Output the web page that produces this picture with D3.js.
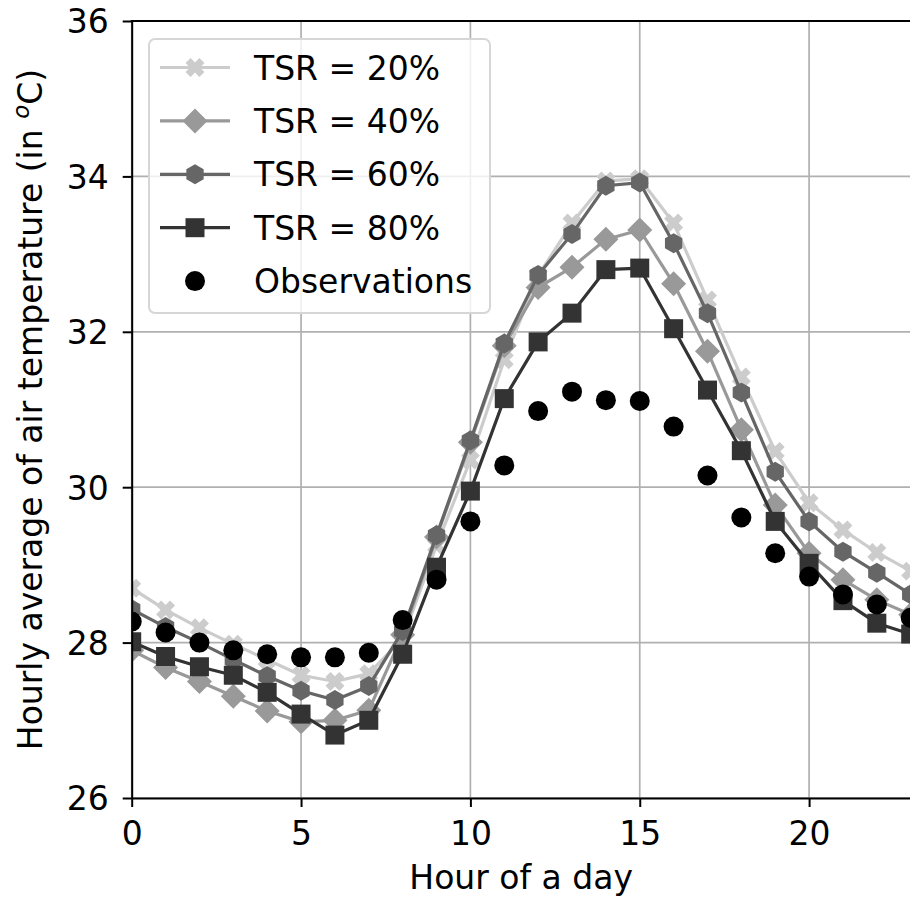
<!DOCTYPE html>
<html>
<head>
<meta charset="utf-8">
<script src="https://cdnjs.cloudflare.com/ajax/libs/d3/7.8.5/d3.min.js"></script>
<style>
  body { margin: 0; background: #fff; }
  svg text { font-family: "DejaVu Sans", sans-serif; fill: #000; }
</style>
</head>
<body>
<div id="chart"></div>
<script>
// hourly averages
var hours = d3.range(0, 24);
var xTicks = [0, 5, 10, 15, 20];
var yTicks = [26, 28, 30, 32, 34, 36];

var tsr20 = [28.70, 28.42, 28.19, 27.98, 27.78, 27.58, 27.50, 27.60, 28.05, 29.25, 30.35, 31.64,
             32.72, 33.40, 33.94, 33.97, 33.40, 32.41, 31.42, 30.46, 29.80, 29.45, 29.16, 28.92];
var tsr40 = [27.90, 27.68, 27.50, 27.31, 27.12, 26.98, 27.00, 27.13, 28.10, 29.36, 30.58, 31.82,
             32.57, 32.83, 33.19, 33.31, 32.62, 31.75, 30.74, 29.77, 29.15, 28.81, 28.55, 28.36];
var tsr60 = [28.43, 28.20, 28.00, 27.78, 27.57, 27.38, 27.26, 27.44, 28.15, 29.38, 30.60, 31.85,
             32.73, 33.26, 33.88, 33.92, 33.14, 32.24, 31.22, 30.20, 29.56, 29.17, 28.90, 28.62];
var tsr80 = [28.01, 27.82, 27.69, 27.58, 27.36, 27.08, 26.81, 27.00, 27.85, 28.97, 29.95, 31.14,
             31.87, 32.24, 32.80, 32.82, 32.04, 31.25, 30.47, 29.56, 29.02, 28.54, 28.25, 28.11];
var observed = [28.27, 28.13, 28.00, 27.90, 27.85, 27.81, 27.81, 27.87, 28.29, 28.81, 29.56, 30.28,
                30.98, 31.23, 31.12, 31.11, 30.78, 30.15, 29.61, 29.15, 28.85, 28.62, 28.49, 28.32];

var series = [
  { label: 'TSR = 20%', values: tsr20, color: '#cccccc', marker: 'x' },
  { label: 'TSR = 40%', values: tsr40, color: '#999999', marker: 'diamond' },
  { label: 'TSR = 60%', values: tsr60, color: '#666666', marker: 'hexagon' },
  { label: 'TSR = 80%', values: tsr80, color: '#333333', marker: 'square' }
];

var width = 910;
var height = 900;
var plotLeft = 131.7, plotRight = 910.7, plotTop = 21, plotBottom = 798;
var fontSize = 33;

var x = d3.scaleLinear().domain([0, 23]).range([plotLeft, plotRight]);
var y = d3.scaleLinear().domain([26, 36]).range([plotBottom, plotTop]);

function markerPath(kind) {
  var pts = [];
  if (kind === 'circle') {
    return d3.symbol().type(d3.symbolCircle).size(Math.PI * 10 * 10)();
  }
  if (kind === 'square') {
    var s = 9.5;
    pts = [[-s, -s], [s, -s], [s, s], [-s, s]];
  } else if (kind === 'diamond') {
    var d = 12.5;
    pts = [[0, -d], [d, 0], [0, d], [-d, 0]];
  } else if (kind === 'hexagon') {
    var r = 10;
    for (var i = 0; i < 6; i++) {
      var a = Math.PI / 3 * i - Math.PI / 2;
      pts.push([r * Math.cos(a), r * Math.sin(a)]);
    }
  } else if (kind === 'x') {
    var L = 9.8, w = 3.6;
    var plus = [[w, w], [w, L], [-w, L], [-w, w], [-L, w], [-L, -w], [-w, -w], [-w, -L], [w, -L], [w, -w], [L, -w], [L, w]];
    var c = Math.SQRT1_2;
    pts = plus.map(function(p) { return [p[0] * c - p[1] * c, p[0] * c + p[1] * c]; });
  }
  return 'M' + pts.map(function(p) { return p[0].toFixed(2) + ',' + p[1].toFixed(2); }).join('L') + 'Z';
}

var svg = d3.select('#chart')
  .append('svg')
  .attr('width', width)
  .attr('height', height);

svg.append('defs').append('clipPath')
  .attr('id', 'plotclip')
  .append('rect')
  .attr('x', plotLeft).attr('y', plotTop)
  .attr('width', plotRight - plotLeft).attr('height', plotBottom - plotTop);

// grid
var grid = svg.append('g').attr('class', 'grid');
grid.selectAll('.gx')
  .data(xTicks)
  .enter()
  .append('line')
  .attr('x1', function(d) { return x(d); })
  .attr('x2', function(d) { return x(d); })
  .attr('y1', plotTop).attr('y2', plotBottom)
  .attr('stroke', '#b0b0b0').attr('stroke-width', 1.7);
grid.selectAll('.gy')
  .data(yTicks)
  .enter()
  .append('line')
  .attr('y1', function(d) { return y(d); })
  .attr('y2', function(d) { return y(d); })
  .attr('x1', plotLeft).attr('x2', plotRight)
  .attr('stroke', '#b0b0b0').attr('stroke-width', 1.7);

// data
var plot = svg.append('g').attr('clip-path', 'url(#plotclip)');

var line = d3.line()
  .x(function(d, i) { return x(hours[i]); })
  .y(function(d) { return y(d); });

series.forEach(function(s) {
  var g = plot.append('g');
  g.append('path')
    .attr('d', line(s.values))
    .attr('fill', 'none')
    .attr('stroke', s.color)
    .attr('stroke-width', 3.2);
  g.selectAll('path.mk')
    .data(s.values)
    .enter()
    .append('path')
    .attr('class', 'mk')
    .attr('d', markerPath(s.marker))
    .attr('transform', function(d, i) { return 'translate(' + x(hours[i]) + ',' + y(d) + ')'; })
    .attr('fill', s.color);
});

plot.append('g')
  .selectAll('path')
  .data(observed)
  .enter()
  .append('path')
  .attr('d', markerPath('circle'))
  .attr('transform', function(d, i) { return 'translate(' + x(hours[i]) + ',' + y(d) + ')'; })
  .attr('fill', '#000');

// axes
var xAxis = svg.append('g')
  .attr('transform', 'translate(0,' + plotBottom + ')')
  .call(d3.axisBottom(x).tickValues(xTicks).tickSize(9).tickSizeOuter(0).tickPadding(15));
var yAxis = svg.append('g')
  .attr('transform', 'translate(' + plotLeft + ',0)')
  .call(d3.axisLeft(y).tickValues(yTicks).tickSize(9).tickSizeOuter(0).tickPadding(14));

[xAxis, yAxis].forEach(function(a) {
  a.attr('font-size', null).attr('font-family', null);
  a.select('.domain').attr('stroke', '#000').attr('stroke-width', 2);
  a.selectAll('.tick line').attr('stroke', '#000').attr('stroke-width', 2);
  a.selectAll('.tick text').style('font-size', fontSize + 'px');
});
yAxis.selectAll('.tick text').attr('dy', '0.36em');

svg.append('line')
  .attr('x1', plotLeft - 1).attr('x2', plotRight)
  .attr('y1', plotTop).attr('y2', plotTop)
  .attr('stroke', '#000').attr('stroke-width', 2);

// axis labels
svg.append('text')
  .attr('x', (plotLeft + plotRight) / 2)
  .attr('y', 889)
  .attr('text-anchor', 'middle')
  .style('font-size', fontSize + 'px')
  .text('Hour of a day');

var ylab = svg.append('text')
  .attr('transform', 'translate(42,' + ((plotTop + plotBottom) / 2) + ') rotate(-90)')
  .attr('text-anchor', 'middle')
  .style('font-size', fontSize + 'px');
ylab.append('tspan').text('Hourly average of air temperature (in ');
ylab.append('tspan').attr('dy', -13).style('font-size', '23px').style('font-style', 'italic').text('o');
ylab.append('tspan').attr('dy', 13).text('C)');

// legend
var legendItems = series.concat([{ label: 'Observations', color: '#000', marker: 'circle', noLine: true }]);
var legendTop = 67.5, legendStep = 53.4;

svg.append('rect')
  .attr('x', 149).attr('y', 39)
  .attr('width', 341).attr('height', 274)
  .attr('rx', 6).attr('ry', 6)
  .attr('fill', '#fff').attr('fill-opacity', 0.8)
  .attr('stroke', '#d6d6d6').attr('stroke-width', 2);

var legend = svg.selectAll('.legend')
  .data(legendItems)
  .enter()
  .append('g')
  .attr('class', 'legend')
  .attr('transform', function(d, i) { return 'translate(0,' + (legendTop + i * legendStep) + ')'; });

legend.filter(function(d) { return !d.noLine; })
  .append('line')
  .attr('x1', 160).attr('x2', 230)
  .attr('stroke', function(d) { return d.color; })
  .attr('stroke-width', 3.2);

legend.append('path')
  .attr('d', function(d) { return markerPath(d.marker); })
  .attr('transform', 'translate(195,0)')
  .attr('fill', function(d) { return d.color; });

legend.append('text')
  .attr('x', 254)
  .attr('y', 12)
  .style('font-size', fontSize + 'px')
  .text(function(d) { return d.label; });
</script>
</body>
</html>
